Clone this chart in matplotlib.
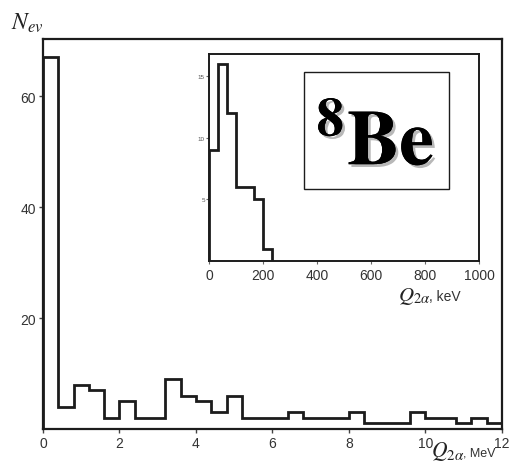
import matplotlib.pyplot as plt
import matplotlib.patheffects as pe
from matplotlib.patches import Rectangle

plt.rcParams['font.family'] = ['Liberation Sans', 'DejaVu Sans']
plt.rcParams['mathtext.fontset'] = 'stix'

# main histogram, Q_2a in MeV (0.4 MeV bins)
main_edges = [0, 0.4, 0.8, 1.2, 1.6, 2.0, 2.4, 2.8, 3.2, 3.6, 4.0, 4.4, 4.8, 5.2,
              5.6, 6.0, 6.4, 6.8, 7.2, 7.6, 8.0, 8.4, 8.8, 9.2, 9.6, 10.0,
              10.4, 10.8, 11.2, 11.6, 12.0]
main_counts = [67, 4, 8, 7, 2, 5, 2, 2, 9, 6, 5, 3, 6,
               2, 2, 2, 3, 2, 2, 2, 3, 1, 1, 1, 3,
               2, 2, 1, 2, 1]

# inset histogram, Q_2a in keV
inset_edges = [0, 33, 67, 100, 133, 167, 200, 233]
inset_counts = [9, 16, 12, 6, 6, 5, 1]

main_xticks = [0, 2, 4, 6, 8, 10, 12]
main_yticks = [20, 40, 60]
inset_xticks = [0, 200, 400, 600, 800, 1000]
inset_yticks = [5, 10, 15]

line_col = '#1c1c1c'

fig = plt.figure(figsize=(5.09, 4.64), dpi=100)
ax = fig.add_axes([0.0845, 0.0733, 0.9015, 0.8405])
ax.stairs(main_counts, main_edges, color=line_col, linewidth=2)
ax.set_xlim(0, 12)
ax.set_ylim(0, 70.3)
ax.set_xticks(main_xticks)
ax.set_yticks(main_yticks)
ax.tick_params(direction='out', length=3, width=1, pad=2, labelsize=10,
               labelcolor='#333333', color='#444444')
for s in ax.spines.values():
    s.set_linewidth(1.6)
    s.set_color(line_col)

fig.text(0.022, 0.935, r'$N_{ev}$', fontsize=17, color='#222222')
fig.text(0.913, 0.016, r'$Q_{2\alpha}$', fontsize=15.5, ha='right', color='#222222')
fig.text(0.910, 0.016, ', MeV', fontsize=9, ha='left', color='#333333')

# inset
axi = fig.add_axes([0.4106, 0.4353, 0.5304, 0.4462])
axi.stairs(inset_counts, inset_edges, color=line_col, linewidth=2)
axi.set_xlim(0, 1000)
axi.set_ylim(0, 16.8)
axi.set_xticks(inset_xticks)
axi.set_yticks(inset_yticks)
axi.tick_params(axis='x', direction='out', length=2, pad=3, labelsize=10,
                labelcolor='#333333', color='#666666')
axi.tick_params(axis='y', direction='out', length=2, pad=1, labelsize=4.5,
                labelcolor='#555555', color='#666666')
for s in axi.spines.values():
    s.set_linewidth(1.4)
    s.set_color(line_col)

fig.text(0.846, 0.352, r'$Q_{2\alpha}$', fontsize=15, ha='right', color='#222222')
fig.text(0.843, 0.352, ', keV', fontsize=10, ha='left', color='#333333')

axi.add_patch(Rectangle((0.352, 0.348), 0.537, 0.565, transform=axi.transAxes,
                        fill=False, edgecolor=line_col, linewidth=1))
be = axi.text(0.615, 0.464, r'$\mathbf{^{8}Be}$', transform=axi.transAxes,
              fontsize=56, ha='center', va='baseline', color='black')
be.set_path_effects([pe.withSimplePatchShadow(offset=(2, -2), shadow_rgbFace='0.72', alpha=1),
                     pe.Normal()])

plt.savefig('out.png', dpi=100)
